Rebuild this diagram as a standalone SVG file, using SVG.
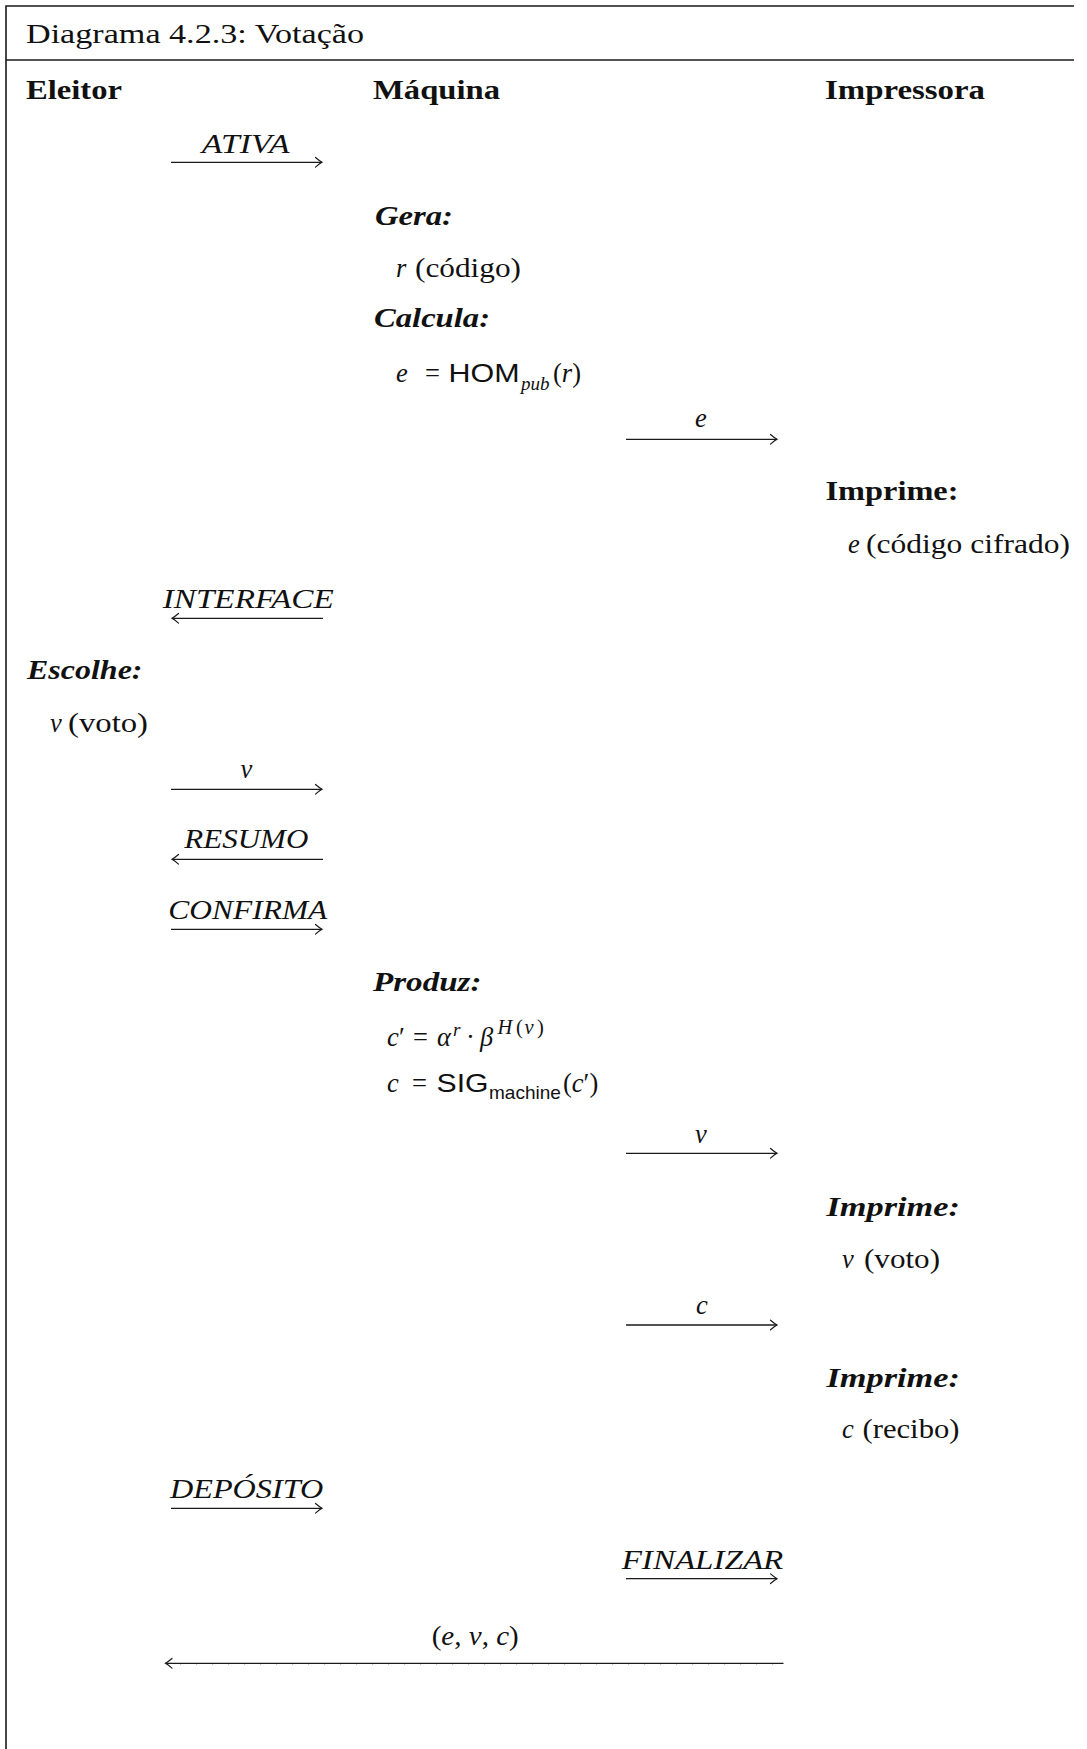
<svg xmlns="http://www.w3.org/2000/svg" width="1087" height="1749" viewBox="0 0 1087 1749">
  <style>
    text { font-family: "Liberation Serif", "Times New Roman", serif; font-size: 26.5px; fill: #111; }
    .b { font-weight: bold; }
    .i { font-style: italic; }
    .bi { font-weight: bold; font-style: italic; }
    .sf { font-family: "Liberation Sans", Arial, sans-serif; font-style: normal; }
    .sm { font-size: 19px; }
    .sup { font-size: 20.5px; }
    .mid { text-anchor: middle; }
    .frame { stroke: #1a1a1a; stroke-width: 1.6; fill: none; }
    .msg { stroke: #1a1a1a; stroke-width: 1.3; fill: none; marker-end: url(#tip); }
    .ticks { stroke: #c4c4c4; stroke-width: 1; stroke-dasharray: 1 15; fill: none; }
  </style>
  <defs>
    <!-- curved open arrow tip in the TeX style -->
    <marker id="tip" markerUnits="userSpaceOnUse" markerWidth="12" markerHeight="12" refX="0" refY="0" orient="auto" overflow="visible">
      <path d="M -6.5,-4.8 Q -2.2,-1.2 0,0 Q -2.2,1.2 -6.5,4.8" fill="none" stroke="#1a1a1a" stroke-width="1.2" stroke-linecap="round"/>
    </marker>
  </defs>

  <rect width="1087" height="1749" fill="#ffffff"/>

  <!-- frame and caption -->
  <g id="frame">
    <path class="frame" d="M 6,1749 V 6 H 1074"/>
    <line class="frame" x1="6" y1="60" x2="1074" y2="60"/>
    <text x="26" y="43" textLength="338" lengthAdjust="spacingAndGlyphs" style="font-size:27px">Diagrama 4.2.3: Votação</text>
  </g>

  <!-- participants -->
  <g id="eleitor">
    <text class="b" x="26" y="99" textLength="96" lengthAdjust="spacingAndGlyphs">Eleitor</text>
  </g>
  <g id="maquina">
    <text class="b" x="373" y="99" textLength="127" lengthAdjust="spacingAndGlyphs">Máquina</text>
  </g>
  <g id="impressora">
    <text class="b" x="825" y="99" textLength="160" lengthAdjust="spacingAndGlyphs">Impressora</text>
  </g>

  <!-- machine: generate code -->
  <g id="gera">
    <text class="bi" x="375" y="225" textLength="78" lengthAdjust="spacingAndGlyphs">Gera:</text>
    <text class="i" x="396" y="277">r</text>
    <text x="415" y="277" textLength="106" lengthAdjust="spacingAndGlyphs">(código)</text>
  </g>

  <!-- machine: encrypt code -->
  <g id="calcula">
    <text class="bi" x="374" y="327" textLength="116" lengthAdjust="spacingAndGlyphs">Calcula:</text>
    <text x="396" y="382"><tspan class="i">e</tspan><tspan x="425">=</tspan><tspan x="448.5" class="sf" textLength="71" lengthAdjust="spacingAndGlyphs">HOM</tspan><tspan x="521" y="390" class="i sm">pub</tspan><tspan x="553" y="382">(</tspan><tspan class="i">r</tspan><tspan>)</tspan></text>
  </g>

  <!-- printer: encrypted code -->
  <g id="imprime-codigo">
    <text class="b" x="825.5" y="500" textLength="133" lengthAdjust="spacingAndGlyphs">Imprime:</text>
    <text class="i" x="848" y="553">e</text>
    <text x="866" y="553" textLength="204" lengthAdjust="spacingAndGlyphs">(código cifrado)</text>
  </g>

  <!-- voter chooses -->
  <g id="escolhe">
    <text class="bi" x="27" y="679" textLength="115.5" lengthAdjust="spacingAndGlyphs">Escolhe:</text>
    <text class="i" x="50" y="732">v</text>
    <text x="68" y="732" textLength="80" lengthAdjust="spacingAndGlyphs">(voto)</text>
  </g>

  <!-- machine: commitment and signature -->
  <g id="produz">
    <text class="bi" x="373" y="990.5" textLength="108.5" lengthAdjust="spacingAndGlyphs">Produz:</text>
    <text x="387" y="1046"><tspan class="i">c</tspan><tspan x="399">′</tspan><tspan x="413">=</tspan><tspan x="437" class="i">α</tspan><tspan x="453" y="1036" class="i sm">r</tspan><tspan x="466" y="1046">·</tspan><tspan x="480" class="i">β</tspan><tspan x="497.5" y="1034" class="i sup">H</tspan><tspan x="516" class="sup">(</tspan><tspan x="524.5" class="i sup">v</tspan><tspan x="537" class="sup">)</tspan></text>
    <text x="387" y="1092"><tspan class="i">c</tspan><tspan x="412">=</tspan><tspan x="436.5" class="sf" textLength="52" lengthAdjust="spacingAndGlyphs">SIG</tspan><tspan x="489" y="1099" class="sf sm">machine</tspan><tspan x="563" y="1092">(</tspan><tspan class="i">c</tspan><tspan>′)</tspan></text>
  </g>

  <!-- printer: vote -->
  <g id="imprime-voto">
    <text class="bi" x="826.5" y="1216" textLength="133.5" lengthAdjust="spacingAndGlyphs">Imprime:</text>
    <text class="i" x="842" y="1268">v</text>
    <text x="864" y="1268" textLength="76" lengthAdjust="spacingAndGlyphs">(voto)</text>
  </g>

  <!-- printer: receipt -->
  <g id="imprime-recibo">
    <text class="bi" x="826.5" y="1387" textLength="133.5" lengthAdjust="spacingAndGlyphs">Imprime:</text>
    <text class="i" x="842" y="1438">c</text>
    <text x="862.5" y="1438" textLength="97" lengthAdjust="spacingAndGlyphs">(recibo)</text>
  </g>

  <!-- messages -->
  <g id="connectors">
    <line class="msg" x1="171" y1="162.3" x2="322" y2="162.3"/>
    <line class="msg" x1="626" y1="439.3" x2="777" y2="439.3"/>
    <line class="msg" x1="323" y1="618.3" x2="172" y2="618.3"/>
    <line class="msg" x1="171" y1="789.3" x2="322" y2="789.3"/>
    <line class="msg" x1="323" y1="859.3" x2="172" y2="859.3"/>
    <line class="msg" x1="171" y1="929.3" x2="322" y2="929.3"/>
    <line class="msg" x1="626" y1="1153.3" x2="777" y2="1153.3"/>
    <line class="msg" x1="626" y1="1325" x2="777" y2="1325"/>
    <line class="msg" x1="171" y1="1508.3" x2="322" y2="1508.3"/>
    <line class="msg" x1="626" y1="1578.7" x2="777" y2="1578.7"/>
    <line class="msg" x1="783.5" y1="1663.3" x2="165.5" y2="1663.3"/>
    <line class="ticks" x1="180" y1="1664.6" x2="775" y2="1664.6"/>

    <text class="i" x="201.7" y="152.7" textLength="88" lengthAdjust="spacingAndGlyphs">ATIVA</text>
    <text class="i mid" x="701" y="427">e</text>
    <text class="i" x="162.7" y="607.7" textLength="171" lengthAdjust="spacingAndGlyphs">INTERFACE</text>
    <text class="i mid" x="246.5" y="778">v</text>
    <text class="i" x="184.3" y="848.3" textLength="124" lengthAdjust="spacingAndGlyphs">RESUMO</text>
    <text class="i" x="168.3" y="919.3" textLength="159" lengthAdjust="spacingAndGlyphs">CONFIRMA</text>
    <text class="i mid" x="701" y="1143.3">v</text>
    <text class="i mid" x="702" y="1314.3">c</text>
    <text class="i" x="170" y="1498.3" textLength="153.3" lengthAdjust="spacingAndGlyphs">DEPÓSITO</text>
    <text class="i" x="621.7" y="1569.3" textLength="161.6" lengthAdjust="spacingAndGlyphs">FINALIZAR</text>
    <text x="431.7" y="1645" textLength="87" lengthAdjust="spacingAndGlyphs">(<tspan class="i">e</tspan>, <tspan class="i">v</tspan>, <tspan class="i">c</tspan>)</text>
  </g>
</svg>
